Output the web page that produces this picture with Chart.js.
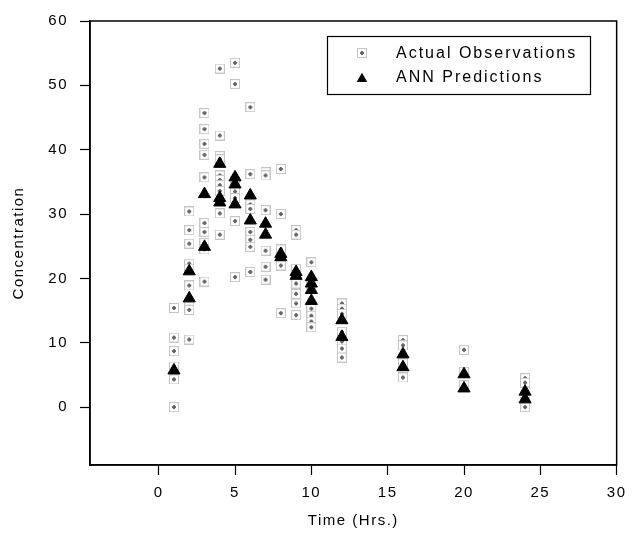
<!DOCTYPE html>
<html>
<head>
<meta charset="utf-8">
<script src="https://cdn.jsdelivr.net/npm/chart.js@4.4.1/dist/chart.umd.min.js"></script>
<style>
  html, body { margin: 0; padding: 0; background: #fff; }
</style>
</head>
<body>
<canvas id="chart" width="634" height="533"></canvas>
<script>
// sampling times (hrs)
const times = [1, 2, 3, 4, 5, 6, 7, 8, 9, 10, 12, 16, 20, 24];

// actual observations at each time
const observed = [
  [15.4, 10.8, 8.7, 6.3, 4.3, 0],
  [30.4, 27.5, 25.4, 22.3, 21.5, 18.9, 15.6, 15.1, 10.5],
  [45.7, 43.2, 40.9, 39.2, 35.7, 28.6, 27.2, 25.5, 24.5, 19.5],
  [52.6, 42.2, 39.0, 38.5, 36.0, 35.3, 34.5, 33.6, 30.1, 26.8],
  [53.5, 50.2, 35.2, 34.2, 33.5, 32.5, 28.9, 20.2],
  [46.6, 36.2, 31.5, 30.8, 27.2, 26.0, 24.9, 21.0],
  [36.5, 36.0, 30.6, 24.3, 21.8, 19.8],
  [37.0, 30.0, 24.5, 23.0, 22.0, 14.6],
  [27.5, 26.8, 21.5, 20.5, 19.2, 17.6, 16.1, 14.3],
  [22.5, 19.0, 15.3, 14.2, 13.3, 12.4],
  [16.1, 15.3, 14.5, 11.7, 10.2, 9.1, 7.7],
  [10.4, 9.6, 7.3, 6.8, 4.6],
  [8.9, 5.5, 3.4],
  [4.5, 3.8, 0.8, 0]
];

// ANN predictions at each time
const predicted = [
  [5.7],
  [21.1, 16.9],
  [33.1, 24.9],
  [37.8, 32.5, 31.8],
  [35.7, 34.6, 31.5],
  [32.9, 29.0],
  [28.5, 26.8],
  [23.8, 23.3],
  [21.0, 20.4],
  [20.2, 19.2, 18.2, 16.5],
  [13.5, 10.9],
  [8.2, 6.2],
  [5.1, 2.9],
  [2.4, 1.2]
];

const xTicks = [0, 5, 10, 15, 20, 25, 30];
const yTicks = [0, 10, 20, 30, 40, 50, 60];

function toPoints(groups) {
  const pts = [];
  groups.forEach((vals, i) => vals.forEach(v => pts.push({ x: times[i], y: v })));
  return pts;
}

// dotted grey square with a small mark in the middle
const sq = document.createElement("canvas");
sq.width = 10; sq.height = 10;
(function () {
  const c = sq.getContext("2d");
  c.fillStyle = "#fff";
  c.fillRect(0, 0, 10, 10);
  c.strokeStyle = "#8a8a8a";
  c.lineWidth = 1;
  c.setLineDash([1, 1]);
  c.strokeRect(0.5, 0.5, 9, 9);
  c.setLineDash([]);
  c.fillStyle = "#666";
  c.fillRect(4, 3, 2, 4);
  c.fillRect(3, 4, 4, 2);
})();

const font = "'Liberation Sans', Arial, sans-serif";

const frame = {
  id: "frame",
  beforeDraw(chart) {
    chart.ctx.letterSpacing = "1.5px";
  },
  afterDraw(chart) {
    const { ctx, chartArea: a } = chart;
    ctx.save();
    ctx.strokeStyle = "#000";
    ctx.lineWidth = 1.5;
    ctx.strokeRect(a.left, a.top, a.right - a.left, a.bottom - a.top);

    // legend box
    ctx.lineWidth = 1.2;
    ctx.strokeRect(327.5, 36.5, 263, 58);
    ctx.drawImage(sq, 357, 48);
    Chart.helpers.drawPoint(ctx, { pointStyle: "triangle", radius: 5, borderWidth: 1 }, 362, 79);
    ctx.fillStyle = "#000";
    ctx.font = "16px " + font;
    ctx.letterSpacing = "2px";
    ctx.textBaseline = "middle";
    ctx.fillText("Actual Observations", 396, 54);
    ctx.fillText("ANN Predictions", 396, 78);
    ctx.restore();
  }
};

new Chart(document.getElementById("chart"), {
  type: "scatter",
  data: {
    datasets: [
      {
        label: "Actual Observations",
        data: toPoints(observed),
        pointStyle: sq,
        order: 1
      },
      {
        label: "ANN Predictions",
        data: toPoints(predicted),
        pointStyle: "triangle",
        pointRadius: 7,
        backgroundColor: "#000",
        borderColor: "#000",
        borderWidth: 1,
        order: 0
      }
    ]
  },
  options: {
    responsive: false,
    animation: false,
    layout: { padding: { top: 21, right: 14, left: 0, bottom: 0 } },
    plugins: { legend: { display: false }, tooltip: { enabled: false } },
    scales: {
      x: {
        type: "linear",
        min: -4.5,
        max: 30,
        afterBuildTicks: s => { s.ticks = xTicks.map(v => ({ value: v })); },
        afterFit: s => { s.height = 68; },
        grid: { drawOnChartArea: false, tickLength: 10, color: "#000", tickColor: "#000", tickWidth: 1.2 },
        border: { display: true, color: "#000", width: 1.5 },
        ticks: { padding: 9, color: "#000", font: { family: font, size: 15 } },
        title: { display: true, text: "Time (Hrs.)", color: "#000", padding: { top: 0, bottom: 3 }, font: { family: font, size: 15 } }
      },
      y: {
        type: "linear",
        min: -9,
        max: 60,
        afterBuildTicks: s => { s.ticks = yTicks.map(v => ({ value: v })); },
        afterFit: s => { s.width = 90; },
        grid: { drawOnChartArea: false, tickLength: 10, color: "#000", tickColor: "#000", tickWidth: 1.2 },
        border: { display: true, color: "#000", width: 1.5 },
        ticks: { padding: 12, color: "#000", font: { family: font, size: 15 } },
        title: { display: true, text: "Concentration", color: "#000", padding: { top: 10, bottom: 0 }, font: { family: font, size: 15 } }
      }
    }
  },
  plugins: [frame]
});
</script>
</body>
</html>
